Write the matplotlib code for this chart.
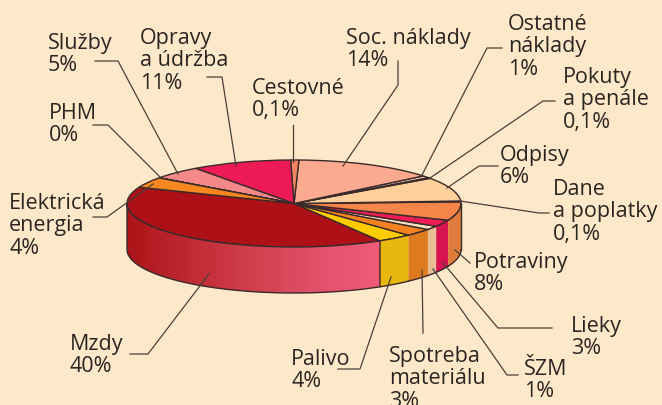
import matplotlib
matplotlib.use("Agg")
import matplotlib.pyplot as plt
import numpy as np
from matplotlib.colors import LinearSegmentedColormap
from matplotlib.patches import Polygon

# labels as printed, shares as they are actually drawn in the picture
names = ["Mzdy", "Palivo", "Spotreba\nmateriálu", "ŠZM", "Lieky", "Potraviny",
         "Dane\na poplatky", "Odpisy", "Pokuty\na penále", "Ostatné\nnáklady",
         "Soc. náklady", "Cestovné", "Opravy\na údržba", "Služby", "PHM",
         "Elektrická\nenergia"]
printed = ["40%", "4%", "3%", "1%", "3%", "8%", "0,1%", "6%", "0,1%", "1%",
           "14%", "0,1%", "11%", "5%", "0%", "4%"]
shares = [39.7, 3.4, 2.8, 1.4, 2.5, 6.9, 0.3, 8.9, 0.3, 0.8,
          13.6, 0.8, 9.7, 4.9, 0.05, 3.9]
top_colors = ["#AD1016", "#FFCC00", "#F58220", "#FCE3C4", "#EE1C54", "#F58549",
              "#F58549", "#FFCF9C", "#E8B80E", "#FCC8B5", "#FBA98F", "#F58460",
              "#EE1A55", "#F58888", "#F7871E", "#F7871E"]
side_colors = ["#AD1016", "#E8B80E", "#E07A1F", "#E8BE94", "#D7144F", "#E07B3C",
               "#E07B3C", "#E0B080", "#C8A00C", "#E0B0A0", "#E09078", "#E07050",
               "#D7144F", "#E07878", "#E07A1F", "#E07A1F"]
label_xy = [(70, 334), (291, 349), (389, 346), (524, 359), (571, 316), (474, 252),
            (553, 179), (500, 145), (563, 67), (508, 14), (346, 28), (252, 78),
            (140, 28), (48, 33), (49, 103), (9, 193)]
leaders = [
    [(130, 354), (148, 354), (209, 274)],
    [(338, 369), (360, 369), (391, 277)],
    [(423, 333), (422, 270)],
    [(518, 375), (507, 375), (433, 269)],
    [(552, 328), (498, 328), (443, 263)],
    [(470, 263), (455, 250)],
    [(549, 213), (539, 213), (460, 201)],
    [(498, 166), (479, 166), (447, 188)],
    [(555, 101), (543, 101), (430, 178)],
    [(502, 48), (487, 48), (422, 175)],
    [(398, 61), (398, 85), (343, 166)],
    [(293, 125), (293, 162)],
    [(207, 77), (222, 77), (236, 166)],
    [(95, 61), (118, 61), (178, 174)],
    [(93, 125), (108, 125), (160, 177)],
    [(93, 217), (107, 217), (153, 184)],
]

bg = "#FDE9C9"
line = "#3A2A2A"
cx, cy, rx, ry, depth = 294, 203.5, 167, 43.5, 46
start = 158

fig = plt.figure(figsize=(6.62, 4.05), dpi=100, facecolor=bg)

# pie in unit coordinates, axes stretched so the circle becomes the ellipse
ax = fig.add_axes([0, 0, 1, 1])
wedges, _ = ax.pie(shares, colors=top_colors, startangle=start, counterclock=True,
                   radius=1, wedgeprops=dict(edgecolor=line, linewidth=1.0))
ax.set_aspect("auto")
ax.set_axis_off()
d = depth / ry

# side wall for the part of each wedge on the front half
grad = LinearSegmentedColormap.from_list("mzdy", ["#AA1418", "#C02A33", "#D0404C",
                                                  "#E2506A", "#F05C78"])
for i, (w, col) in enumerate(zip(wedges, side_colors)):
    t1, t2 = w.theta1, w.theta2
    lo, hi = max(t1, 180), min(t2, 360)
    if hi <= lo:
        continue
    t = np.radians(np.linspace(lo, hi, 80))
    xs, ys = np.cos(t), np.sin(t)
    pts = np.r_[np.c_[xs, ys], np.c_[xs[::-1], ys[::-1] - d]]
    if i == 0:
        poly = Polygon(pts, closed=True, facecolor="none", edgecolor=line, lw=1.0, zorder=3)
        ax.add_patch(poly)
        im = ax.imshow(np.linspace(0, 1, 256)[None, :], cmap=grad, aspect="auto", zorder=2,
                       extent=(xs.min(), xs.max(), ys.min() - d, ys.max()))
        im.set_clip_path(poly)
    else:
        ax.add_patch(Polygon(pts, closed=True, facecolor=col, edgecolor="none", zorder=2))
        ax.plot(xs, ys - d, color=line, lw=1.0, zorder=3)
        ax.plot(xs, ys, color=line, lw=1.0, zorder=3)
# right edge of the wall
ax.plot([1, 1], [0, -d], color=line, lw=1.0, zorder=3)
ax.set_xlim(-cx / rx, (662 - cx) / rx)
ax.set_ylim((cy - 405) / ry, cy / ry)

# overlay in pixels for the labels and their leader lines
ov = fig.add_axes([0, 0, 1, 1], facecolor="none")
ov.set_xlim(0, 662)
ov.set_ylim(405, 0)
ov.set_axis_off()
for name, pct, (x, y), pts in zip(names, printed, label_xy, leaders):
    ov.text(x, y, name + "\n" + pct, fontsize=15.5, family="Open Sans", color="#2B2522",
            va="top", ha="left", linespacing=1.09, clip_on=False)
    px, py = zip(*pts)
    ov.plot(px, py, color="#4A4038", lw=0.9)

fig.savefig("out.png", dpi=100, facecolor=bg)
